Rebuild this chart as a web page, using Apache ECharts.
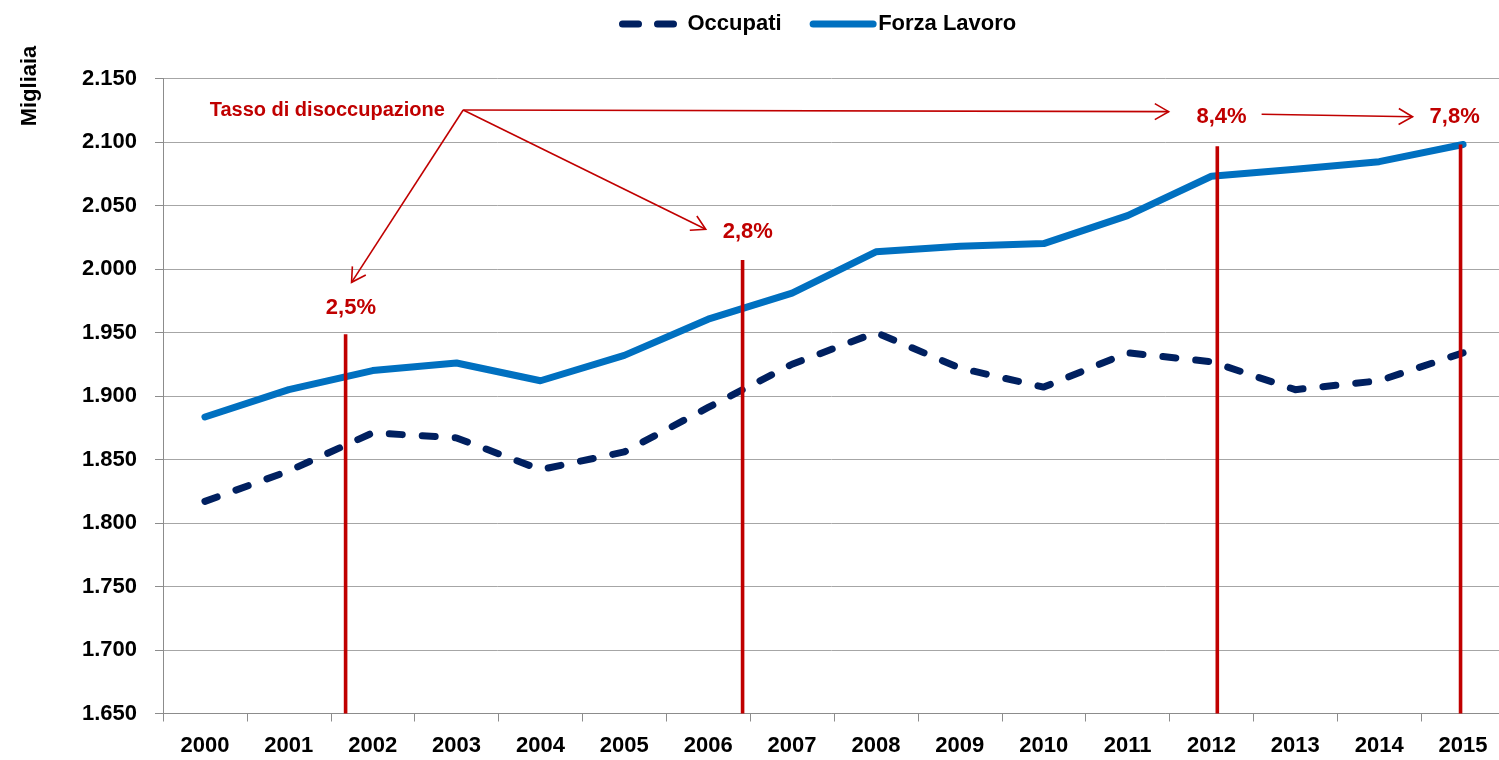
<!DOCTYPE html>
<html>
<head>
<meta charset="utf-8">
<script src="https://cdn.jsdelivr.net/npm/echarts@6/dist/echarts.min.js"></script>
<style>html,body{margin:0;padding:0;background:#fff;}#chart{width:1499px;height:760px;}</style>
</head>
<body>
<div id="chart"></div>
<script>
const categories = ['2000','2001','2002','2003','2004','2005','2006','2007','2008','2009','2010','2011','2012','2013','2014','2015'];
const occupati = [1817, 1841, 1871, 1867, 1842, 1856, 1891, 1925, 1950, 1922, 1907, 1934, 1927, 1905, 1912, 1934];
const forzaLavoro = [1883.5, 1905, 1920, 1926, 1912, 1932, 1960.5, 1981, 2013.5, 2018, 2020, 2042, 2073, 2078.5, 2084.5, 2098];
const yMin = 1650, yMax = 2150, yInterval = 50;
// unemployment-rate annotation marks, in (category index, value) coordinates
const redLines = [[1.677, 1948.7], [6.41, 2007], [12.07, 2096.6], [14.97, 2098]];
const arrows = [[3.079, 2125.2, 1.748, 1989.5], [3.079, 2125.2, 5.971, 2031.3], [3.079, 2125.2, 11.49, 2123.9], [12.598, 2121.8, 14.398, 2119.9]];
const annotationTexts = ['Tasso di disoccupazione', '2,5%', '2,8%', '8,4%', '7,8%'];
const annotationPos = [[2.861, 2125.2], [1.74, 1969.3], [6.472, 2029.4], [12.12, 2119.9], [14.90, 2119.9]];
const annotationAlign = ['right', 'center', 'center', 'center', 'center'];
const annotationSize = [20, 22, 22, 22, 22];

const FONT = '"Liberation Sans", Arial, sans-serif';
const RED = '#C00000';

const chart = echarts.init(document.getElementById('chart'), null, {renderer: 'canvas'});

function fmtThousands(v) {
  const th = Math.floor(v / 1000), rest = v % 1000;
  return th > 0 ? th + '.' + String(rest).padStart(3, '0') : String(v);
}

chart.setOption({
  animation: false,
  backgroundColor: '#ffffff',
  grid: {left: 163, top: 78.5, width: 1342, height: 635, containLabel: false, outerBoundsMode: 'none'},
  legend: {
    left: 614, top: 8,
    itemWidth: 60, itemHeight: 14, itemGap: 28,
    textStyle: {fontFamily: FONT, fontWeight: 'bold', fontSize: 22, color: '#000'},
    data: [
      {name: 'Occupati', itemStyle: {opacity: 0}, lineStyle: {type: [16, 19], cap: 'round', width: 7, color: '#002060'}},
      {name: 'Forza Lavoro', itemStyle: {opacity: 0}, lineStyle: {width: 7, cap: 'round', color: '#0070C0'}}
    ]
  },
  graphic: [{
    type: 'text', x: 30, y: 86, rotation: Math.PI / 2,
    style: {text: 'Migliaia', font: 'bold 22px ' + FONT, fill: '#000', textAlign: 'center', textVerticalAlign: 'middle', align: 'center', verticalAlign: 'middle'}
  }],
  xAxis: [{
    type: 'category', data: categories, boundaryGap: true,
    axisLine: {show: true, onZero: false, lineStyle: {color: '#8c8c8c', width: 1}},
    axisTick: {show: true, length: 8, inside: false, lineStyle: {color: '#8c8c8c'}},
    axisLabel: {fontFamily: FONT, fontWeight: 'bold', fontSize: 22, color: '#000', margin: 21},
    splitLine: {show: false}
  }, {
    type: 'value', min: -0.5, max: 15.5, show: false, gridIndex: 0
  }],
  yAxis: {
    type: 'value', min: yMin, max: yMax, interval: yInterval,
    axisLine: {show: true, onZero: false, lineStyle: {color: '#8c8c8c', width: 1}},
    axisTick: {show: true, length: 8, inside: false, lineStyle: {color: '#8c8c8c'}},
    axisLabel: {fontFamily: FONT, fontWeight: 'bold', fontSize: 22, color: '#000', margin: 26, formatter: fmtThousands},
    splitLine: {show: true, lineStyle: {color: '#a6a6a6', width: 1}}
  },
  series: [
    {
      name: 'Occupati', type: 'line', data: occupati, symbol: 'none', z: 3,
      lineStyle: {color: '#002060', width: 7, type: [13, 20], cap: 'round', join: 'round'},
      itemStyle: {color: '#002060'}
    },
    {
      name: 'Forza Lavoro', type: 'line', data: forzaLavoro, symbol: 'none', z: 3,
      lineStyle: {color: '#0070C0', width: 7, cap: 'round', join: 'round'},
      itemStyle: {color: '#0070C0'}
    },
    {
      type: 'custom', xAxisIndex: 1, yAxisIndex: 0, z: 5, silent: true,
      data: redLines,
      renderItem: function (params, api) {
        const p0 = api.coord([api.value(0), yMin]);
        const p1 = api.coord([api.value(0), api.value(1)]);
        return {type: 'line', shape: {x1: p0[0], y1: p0[1], x2: p1[0], y2: p1[1]}, style: {stroke: RED, lineWidth: 3.6}};
      }
    },
    {
      type: 'custom', xAxisIndex: 1, yAxisIndex: 0, z: 6, silent: true,
      data: arrows,
      renderItem: function (params, api) {
        const a = api.coord([api.value(0), api.value(1)]);
        const b = api.coord([api.value(2), api.value(3)]);
        const ang = Math.atan2(b[1] - a[1], b[0] - a[0]);
        const L = 16, w = Math.PI / 6;
        const h1 = [b[0] - L * Math.cos(ang - w), b[1] - L * Math.sin(ang - w)];
        const h2 = [b[0] - L * Math.cos(ang + w), b[1] - L * Math.sin(ang + w)];
        const st = {stroke: RED, lineWidth: 1.6, fill: null};
        return {type: 'group', children: [
          {type: 'line', shape: {x1: a[0], y1: a[1], x2: b[0], y2: b[1]}, style: st},
          {type: 'polyline', shape: {points: [h1, b, h2]}, style: st}
        ]};
      }
    },
    {
      type: 'custom', xAxisIndex: 1, yAxisIndex: 0, z: 7, silent: true,
      data: annotationPos,
      renderItem: function (params, api) {
        const p = api.coord([api.value(0), api.value(1)]);
        const i = params.dataIndex;
        return {type: 'text', x: p[0], y: p[1], style: {
          text: annotationTexts[i], fill: RED,
          font: 'bold ' + annotationSize[i] + 'px ' + FONT,
          textAlign: annotationAlign[i], align: annotationAlign[i],
          textVerticalAlign: 'middle', verticalAlign: 'middle'
        }};
      }
    }
  ]
});
</script>
</body>
</html>
